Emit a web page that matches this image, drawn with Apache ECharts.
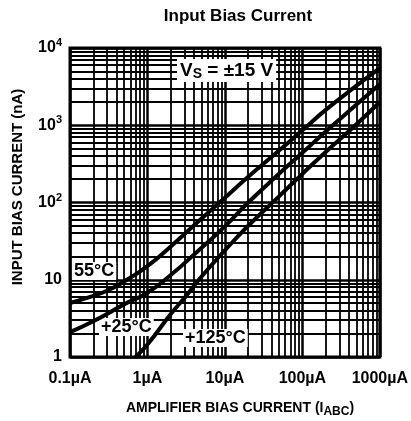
<!DOCTYPE html>
<html>
<head>
<meta charset="utf-8">
<script src="https://cdn.jsdelivr.net/npm/echarts@6/dist/echarts.min.js"></script>
<style>html,body{margin:0;padding:0;background:#fff}#c{width:411px;height:421px}</style>
</head>
<body>
<div id="c"></div>
<script>
// Amplifier bias current (µA) vs input bias current (nA)
const currM55 = [0.1, 0.2, 0.3, 0.5, 1, 2, 5, 10, 20, 50, 100, 200, 500, 1000];
const biasM55 = [5.0, 6.2, 7.2, 9.5, 15, 27, 62, 115, 215, 470, 860, 1580, 3250, 5500];
const curr25 = [0.1, 0.2, 0.5, 1, 2, 5, 10, 20, 50, 100, 200, 500, 1000];
const bias25 = [2.1, 2.9, 4.8, 6.8, 11.5, 26, 49, 100, 235, 440, 830, 1850, 3400];
const curr125 = [0.7, 1, 2, 3, 5, 10, 20, 50, 100, 200, 500, 1000];
const bias125 = [1.0, 1.45, 3.6, 5.8, 11, 24, 50, 120, 235, 450, 1030, 2000];
const xTickLabels = ['0.1\u00b5A', '1\u00b5A', '10\u00b5A', '100\u00b5A', '1000\u00b5A'];
const yTickLabels = ['1', '10', '10{sup|2}', '10{sup|3}', '10{sup|4}'];
const xDecades = [0.1, 1, 10, 100];
const yDecades = [1, 10, 100, 1000];
const minorMult = [2, 3, 4, 5, 6, 7, 8, 9];

const pairs = (xs, ys) => xs.map((x, i) => [x, ys[i]]);
const minorLines = [];
xDecades.forEach(d => minorMult.forEach(m => minorLines.push({ xAxis: d * m })));
yDecades.forEach(d => minorMult.forEach(m => minorLines.push({ yAxis: d * m })));

const chart = echarts.init(document.getElementById('c'), null, { renderer: 'canvas' });
const curveStyle = { color: '#000', width: 4 };
const F = 'Liberation Sans, Arial, sans-serif';
const labelStyle = (t) => ({ text: t, font: 'bold 18px ' + F, fill: '#000', backgroundColor: '#fff', padding: [0, 2, 0, 2] });
chart.setOption({
  animation: false,
  backgroundColor: '#fff',
  grid: { left: 70, top: 48, right: 31, bottom: 64, show: true, borderColor: '#000', borderWidth: 3, backgroundColor: 'transparent', z: 20 },
  xAxis: {
    type: 'log', logBase: 10, min: 0.1, max: 1000,
    axisLine: { show: false }, axisTick: { show: false },
    splitLine: { show: true, lineStyle: { color: '#000', width: 2.5 } },
    axisLabel: {
      margin: 14, color: '#000', fontWeight: 'bold', fontSize: 16, fontFamily: F,
      showMinLabel: true, showMaxLabel: true,
      formatter: v => xTickLabels[Math.round(Math.log10(v)) + 1]
    }
  },
  yAxis: {
    type: 'log', logBase: 10, min: 1, max: 10000,
    axisLine: { show: false }, axisTick: { show: false },
    splitLine: { show: true, lineStyle: { color: '#000', width: 2.5 } },
    axisLabel: {
      margin: 8, color: '#000', fontWeight: 'bold', fontSize: 16, fontFamily: F,
      showMinLabel: true, showMaxLabel: true,
      formatter: v => yTickLabels[Math.round(Math.log10(v))],
      rich: { sup: { fontSize: 11, fontWeight: 'bold', verticalAlign: 'top', padding: [0, 0, 10, 0], fontFamily: F, color: '#000' } }
    }
  },
  series: [
    { type: 'line', data: [], z: 1, silent: true,
      markLine: { z: 1, silent: true, symbol: 'none', label: { show: false }, animation: false,
        lineStyle: { color: '#000', width: 1.8, type: 'solid' }, data: minorLines } },
    { name: '-55', type: 'line', smooth: 0.5, showSymbol: false, z: 10, lineStyle: curveStyle, data: pairs(currM55, biasM55) },
    { name: '25', type: 'line', smooth: 0.5, showSymbol: false, z: 10, lineStyle: curveStyle, data: pairs(curr25, bias25) },
    { name: '125', type: 'line', smooth: 0.5, showSymbol: false, z: 10, lineStyle: curveStyle, data: pairs(curr125, bias125) }
  ],
  graphic: [
    { type: 'text', x: 238, y: 8, z: 30, style: { text: 'Input Bias Current', font: 'bold 17px ' + F, fill: '#000', align: 'center' } },
    { type: 'text', x: 240, y: 398, z: 30, style: { text: 'AMPLIFIER BIAS CURRENT (I{sub|ABC})', font: 'bold 14px ' + F, fill: '#000', align: 'center',
      rich: { sub: { font: 'bold 12px ' + F, fill: '#000', padding: [8, 0, 0, 0] } } } },
    { type: 'text', x: 10, y: 187, rotation: Math.PI / 2, z: 30, style: { text: 'INPUT BIAS CURRENT (nA)', font: 'bold 15px ' + F, fill: '#000', align: 'center', verticalAlign: 'top' } },
    { type: 'text', x: 177, y: 59, z: 3, style: { text: 'V{sub|S} = \u00b115 V', font: 'bold 19px ' + F, fill: '#000', backgroundColor: '#fff', padding: [1, 3, 1, 3],
      rich: { sub: { font: 'bold 14px ' + F, fill: '#000', padding: [7, 0, 0, 0], backgroundColor: '#fff' } } } },
    { type: 'text', x: 72, y: 262, z: 3, style: labelStyle('55\u00b0C') },
    { type: 'text', x: 99, y: 318, z: 3, style: labelStyle('+25\u00b0C') },
    { type: 'text', x: 183, y: 329, z: 3, style: labelStyle('+125\u00b0C') }
  ]
});
</script>
</body>
</html>
